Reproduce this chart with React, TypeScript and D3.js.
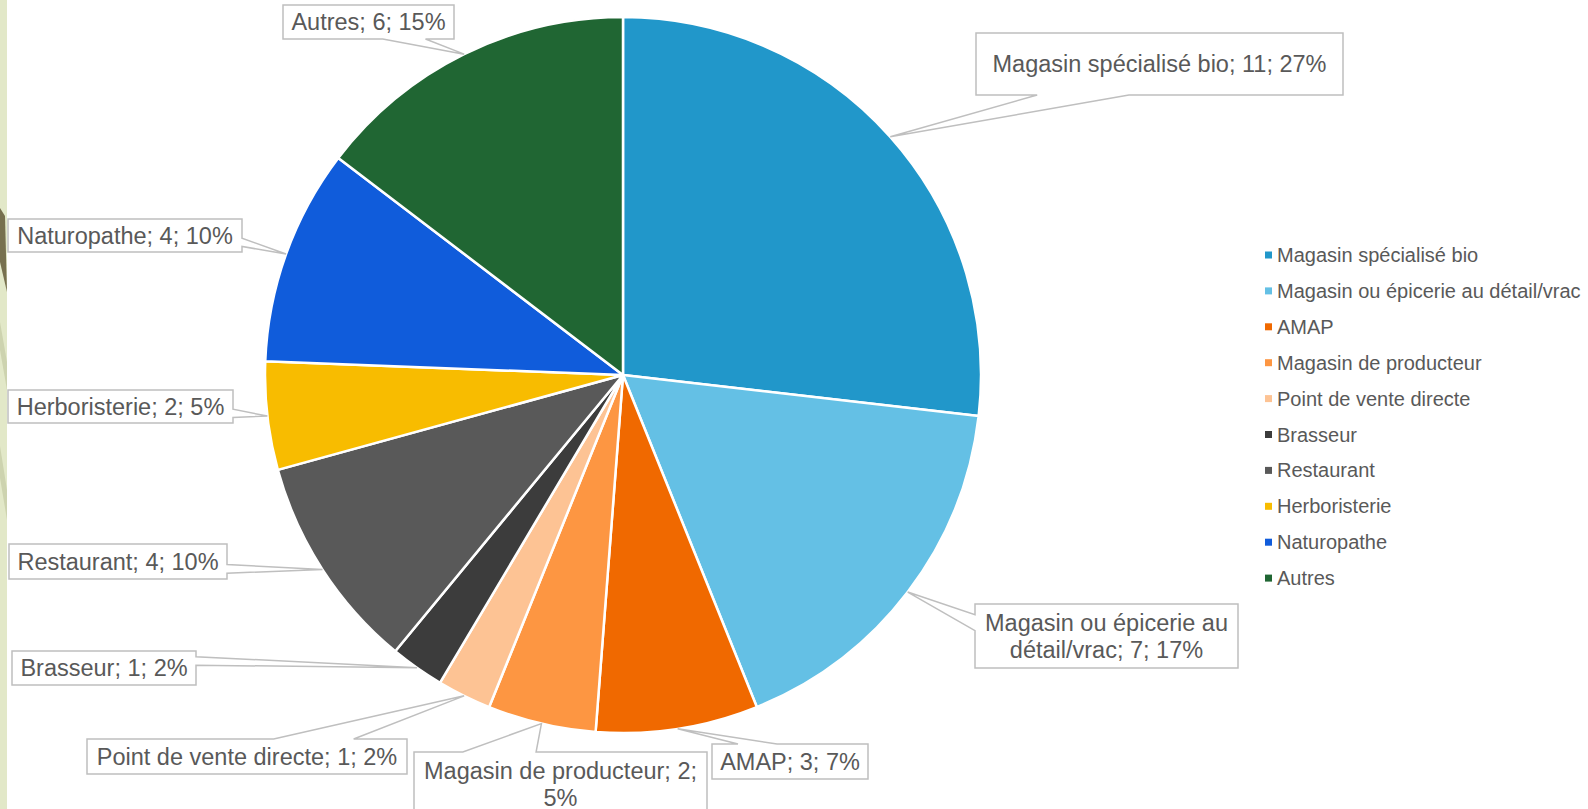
import { useEffect, useRef } from "react";
import * as d3 from "d3";

const categories = [
  "Magasin spécialisé bio",
  "Magasin ou épicerie au détail/vrac",
  "AMAP",
  "Magasin de producteur",
  "Point de vente directe",
  "Brasseur",
  "Restaurant",
  "Herboristerie",
  "Naturopathe",
  "Autres",
];
const counts = [11, 7, 3, 2, 1, 1, 4, 2, 4, 6];
const sliceColors = [
  "#2197ca",
  "#64c0e5",
  "#f06900",
  "#fd9642",
  "#fdc394",
  "#3c3c3c",
  "#595959",
  "#f8bc00",
  "#105cdb",
  "#206633",
];

// callout boxes: x, y, width, height
const labelBoxes = [
  [976, 33, 367, 62],
  [975, 604, 263, 64],
  [712, 744, 156, 35],
  [414, 752, 293, 64],
  [87, 739, 320, 35],
  [12, 651, 184, 34],
  [9, 544, 218, 35],
  [8, 390, 225, 33],
  [8, 219, 234, 33],
  [283, 5, 171, 34],
];

const W = 1588;
const H = 809;
const FONT = "'Liberation Sans', Arial, sans-serif";

const App = () => {
  const svgRef = useRef<SVGSVGElement>(null);

  useEffect(() => {
    const svg = d3.select(svgRef.current);
    svg.selectAll("*").remove();

    const cx = 623;
    const cy = 375;
    const radius = 358;
    const total = d3.sum(counts);

    const data = categories.map((c, i) => ({ name: c, value: counts[i], color: sliceColors[i] }));

    // left decoration strip
    svg.append("rect").attr("x", 0).attr("y", 0).attr("width", 7).attr("height", H).attr("fill", "#e2e8c8");
    svg.append("polygon").attr("points", "0,208 5,216 7,292 0,262").attr("fill", "#77704f");
    svg.append("polygon").attr("points", "0,322 7,362 7,390 0,350").attr("fill", "#cdd3af");
    svg.append("polygon").attr("points", "0,446 7,490 7,520 0,478").attr("fill", "#cdd3af");

    const pie = d3.pie<any>().value((d) => d.value).sort(null);
    const arcs = pie(data);
    const arc = d3.arc<any>().innerRadius(0).outerRadius(radius);

    const g = svg.append("g").attr("transform", `translate(${cx},${cy})`);
    g.selectAll("path")
      .data(arcs)
      .enter()
      .append("path")
      .attr("d", arc)
      .attr("fill", (d) => d.data.color)
      .attr("stroke", "#ffffff")
      .attr("stroke-width", 2.5)
      .attr("stroke-linejoin", "round");

    // Callout labels
    const fs = 23.5;
    const lineH = 27;
    arcs.forEach((a, i) => {
      const mid = (a.startAngle + a.endAngle) / 2;
      const tx = cx + Math.sin(mid) * radius;
      const ty = cy - Math.cos(mid) * radius;
      const [bx, by, bw, bh] = labelBoxes[i];
      const bcx = bx + bw / 2;
      const bcy = by + bh / 2;
      const dx = (tx - bcx) / bw;
      const dy = (ty - bcy) / bh;

      const pts: [number, number][] = [];
      const tl: [number, number] = [bx, by];
      const tr: [number, number] = [bx + bw, by];
      const br: [number, number] = [bx + bw, by + bh];
      const bl: [number, number] = [bx, by + bh];
      const tip: [number, number] = [tx, ty];
      const horiz = dx < 0 ? [2 / 12, 5 / 12] : [7 / 12, 10 / 12];
      const vert = dy < 0 ? [2 / 12, 5 / 12] : [7 / 12, 10 / 12];

      if (Math.abs(dx) > Math.abs(dy)) {
        if (dx > 0) {
          pts.push(tl, tr, [bx + bw, by + vert[0] * bh], tip, [bx + bw, by + vert[1] * bh], br, bl);
        } else {
          pts.push(tl, tr, br, bl, [bx, by + vert[1] * bh], tip, [bx, by + vert[0] * bh]);
        }
      } else if (dy < 0) {
        pts.push(tl, [bx + horiz[0] * bw, by], tip, [bx + horiz[1] * bw, by], tr, br, bl);
      } else {
        pts.push(tl, tr, br, [bx + horiz[1] * bw, by + bh], tip, [bx + horiz[0] * bw, by + bh], bl);
      }

      svg
        .append("path")
        .attr("d", "M" + pts.map((p) => p.join(",")).join("L") + "Z")
        .attr("fill", "#ffffff")
        .attr("stroke", "#bfbfbf")
        .attr("stroke-width", 1.5);

      const label = `${a.data.name}; ${a.data.value}; ${Math.round((a.data.value / total) * 100)}%`;

      // wrap words to box width
      const probe = svg
        .append("text")
        .style("font-family", FONT)
        .style("font-size", `${fs}px`);
      const words = label.split(" ");
      const lines: string[] = [];
      let cur = "";
      words.forEach((w) => {
        const test = cur ? cur + " " + w : w;
        probe.text(test);
        if ((probe.node() as SVGTextElement).getComputedTextLength() > bw - 8 && cur) {
          lines.push(cur);
          cur = w;
        } else {
          cur = test;
        }
      });
      lines.push(cur);
      probe.remove();

      lines.forEach((ln, k) => {
        svg
          .append("text")
          .attr("x", bcx)
          .attr("y", bcy + (k - (lines.length - 1) / 2) * lineH + fs * 0.36)
          .attr("text-anchor", "middle")
          .style("font-family", FONT)
          .style("font-size", `${fs}px`)
          .attr("fill", "#595959")
          .text(ln);
      });
    });

    // Legend
    const legend = svg.append("g");
    data.forEach((d, i) => {
      const y = 255 + i * 35.9;
      legend
        .append("rect")
        .attr("x", 1265)
        .attr("y", y - 3.5)
        .attr("width", 7)
        .attr("height", 7)
        .attr("fill", d.color);
      legend
        .append("text")
        .attr("x", 1277)
        .attr("y", y + 7)
        .style("font-family", FONT)
        .style("font-size", "20px")
        .attr("fill", "#595959")
        .text(d.name);
    });
  }, []);

  return (
    <svg
      ref={svgRef}
      width={W}
      height={H}
      viewBox={`0 0 ${W} ${H}`}
      style={{ position: "absolute", left: 0, top: 0, background: "#ffffff" }}
    ></svg>
  );
};

export default App;
